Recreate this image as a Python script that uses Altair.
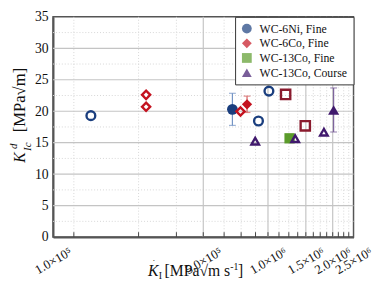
import altair as alt
import pandas as pd

# ---------------- data ----------------
series_names = ["WC-6Ni, Fine", "WC-6Co, Fine", "WC-13Co, Fine", "WC-13Co, Course"]
series_colors = ["#1a3e7e", "#c4121f", "#5b9b2b", "#40196d"]
series_shapes = ["circle", "diamond", "square", "triangle-up"]

# filled markers (mean values with error bars)
filled_series = ["WC-6Ni, Fine", "WC-6Co, Fine", "WC-13Co, Fine", "WC-13Co, Course"]
filled_rate = [6.83e5, 7.99e5, 1.26e6, 2.02e6]
filled_k = [20.3, 21.1, 15.7, 20.2]
filled_err = [2.55, 1.3, 0.0, 3.5]
err_colors = ["#7393c4", "#d45a5a", "#5b9b2b", "#7a5f9a"]

# open markers
open_series = ["WC-6Ni, Fine", "WC-6Ni, Fine", "WC-6Ni, Fine",
               "WC-6Co, Fine", "WC-6Co, Fine", "WC-6Co, Fine",
               "WC-13Co, Fine", "WC-13Co, Fine",
               "WC-13Co, Course", "WC-13Co, Course", "WC-13Co, Course"]
open_rate = [1.50e5, 9.03e5, 1.01e6,
             2.71e5, 2.71e5, 7.45e5,
             1.208e6, 1.491e6,
             8.72e5, 1.338e6, 1.82e6]
open_k = [19.3, 18.45, 23.2,
          22.6, 20.7, 19.97,
          22.67, 17.68,
          15.24, 15.64, 16.66]
open_colors = ["#1a3e7e", "#1a3e7e", "#1a3e7e",
               "#c4121f", "#c4121f", "#c4121f",
               "#8a1b2e", "#8a1b2e",
               "#40196d", "#40196d", "#40196d"]

x_tick_values = [1e5, 5e5, 1e6, 1.5e6, 2e6, 2.5e6]
x_tick_labels = ["1.0×10⁵", "5.0×10⁵", "1.0×10⁶", "1.5×10⁶", "2.0×10⁶", "2.5×10⁶"]
y_tick_values = [0, 5, 10, 15, 20, 25, 30, 35]

xg_major = [5e5, 1e6, 1.5e6, 2e6]
xg_minor = [1.25e5, 2.5e5, 3.75e5, 6.25e5, 7.5e5, 8.75e5, 1.125e6, 1.25e6,
            1.375e6, 1.625e6, 1.75e6, 1.875e6, 2.125e6, 2.25e6, 2.375e6]
yg_major = [5, 10, 15, 20, 25, 30]
yg_minor = [2.5, 7.5, 12.5, 17.5, 22.5, 27.5, 32.5]

# ---------------- styling ----------------
SERIF = "Liberation Serif, Times New Roman, DejaVu Serif, serif"
W, H = 307, 225
shape_of = dict(zip(series_names, series_shapes))
open_size = {"circle": 80, "diamond": 70, "square": 90, "triangle-up": 60}
filled_size = {"circle": 120, "diamond": 110, "square": 110, "triangle-up": 130}

xscale = alt.Scale(type="log", domain=[1e5, 2.5e6], nice=False)
yscale = alt.Scale(domain=[0, 35], nice=False, zero=False)

label_expr = ""
for i, (v, lab) in enumerate(zip(x_tick_values, x_tick_labels)):
    if i < len(x_tick_values) - 1:
        label_expr += f"datum.value < {v * 1.1} ? '{lab}' : "
    else:
        label_expr += f"'{lab}'"

x_axis = alt.Axis(values=x_tick_values, labelExpr=label_expr, labelAngle=330,
                  labelAlign="center", labelBaseline="middle", labelPadding=24,
                  labelFlush=False, ticks=False, tickSize=0, grid=False,
                  domainColor="#555", domainWidth=2, labelOverlap=False,
                  labelFont=SERIF, labelFontSize=13, labelColor="#111", title=None)
y_axis = alt.Axis(values=y_tick_values, ticks=False, tickSize=0, grid=False,
                  domainColor="#555", domainWidth=2, labelFont=SERIF, labelFlush=False,
                  labelFontSize=14, labelColor="#111", labelPadding=5, title=None)

X = lambda f: alt.X(f, type="quantitative", scale=xscale, axis=x_axis)
Y = lambda f: alt.Y(f, type="quantitative", scale=yscale, axis=y_axis)

df_f = pd.DataFrame({"series": filled_series, "rate": filled_rate, "k": filled_k,
                     "err": filled_err, "ecol": err_colors})
df_f["lo"] = df_f["k"] - df_f["err"]
df_f["hi"] = df_f["k"] + df_f["err"]
df_f["size"] = [filled_size[shape_of[s]] for s in df_f["series"]]
df_e = df_f[df_f["err"] > 0]

df_o = pd.DataFrame({"series": open_series, "rate": open_rate, "k": open_k,
                     "col": open_colors})
df_o["shape"] = [shape_of[s] for s in df_o["series"]]
df_o["size"] = [open_size[s] for s in df_o["shape"]]

# grid
gx_minor = alt.Chart(pd.DataFrame({"v": xg_minor})).mark_rule(
    color="#d6d6d6", strokeWidth=1, strokeDash=[1, 2]).encode(x=X("v"))
gy_minor = alt.Chart(pd.DataFrame({"v": yg_minor})).mark_rule(
    color="#d6d6d6", strokeWidth=1, strokeDash=[1, 2]).encode(y=Y("v"))
gx_major = alt.Chart(pd.DataFrame({"v": xg_major})).mark_rule(
    color="#c4c4c4", strokeWidth=1.2).encode(x=X("v"))
gy_major = alt.Chart(pd.DataFrame({"v": yg_major})).mark_rule(
    color="#c4c4c4", strokeWidth=1.2).encode(y=Y("v"))
xticks = alt.Chart(pd.DataFrame({"v": xg_major + xg_minor})).mark_rule(
    color="#444", strokeWidth=1).encode(x=X("v"), y=alt.value(H), y2=alt.value(H - 5))

# error bars
ebar = alt.Chart(df_e).mark_rule(strokeWidth=1.2).encode(
    x=X("rate"), y=Y("lo"), y2="hi", color=alt.Color("ecol:N", scale=None))
ecap_lo = alt.Chart(df_e).mark_tick(orient="horizontal", size=7, thickness=1.2).encode(
    x=X("rate"), y=Y("lo"), color=alt.Color("ecol:N", scale=None))
ecap_hi = alt.Chart(df_e).mark_tick(orient="horizontal", size=7, thickness=1.2).encode(
    x=X("rate"), y=Y("hi"), color=alt.Color("ecol:N", scale=None))

# filled markers (carry the legend)
filled = alt.Chart(df_f).mark_point(filled=True, opacity=1).encode(
    x=X("rate"), y=Y("k"),
    color=alt.Color("series:N", scale=alt.Scale(domain=series_names, range=series_colors),
                    legend=alt.Legend(title=None, orient="top-right", offset=0,
                                      padding=6, strokeColor="#333", fillColor="white",
                                      labelFont=SERIF, labelFontSize=12, labelColor="#111",
                                      symbolSize=100, symbolStrokeWidth=0,
                                      rowPadding=3, labelOffset=7, cornerRadius=0)),
    shape=alt.Shape("series:N", scale=alt.Scale(domain=series_names, range=series_shapes)),
    size=alt.Size("size:Q", scale=None))

# open markers
opened = alt.Chart(df_o).mark_point(filled=False, strokeWidth=2.4, opacity=1).encode(
    x=X("rate"), y=Y("k"),
    stroke=alt.Stroke("col:N", scale=None),
    shape=alt.Shape("shape:N", scale=None),
    size=alt.Size("size:Q", scale=None))

# axis titles as composed text
def txt(s, x, y, size, angle=0, style="normal", dx=0, dy=0, align="left", baseline="alphabetic"):
    return alt.Chart(pd.DataFrame({"t": [s]})).mark_text(
        font=SERIF, fontSize=size, fontStyle=style, angle=angle, dx=dx, dy=dy,
        align=align, baseline=baseline, color="#111").encode(
        text="t:N", x=alt.value(x), y=alt.value(y))

ty_x, ty_y = -29, 149
ytitle = [
    txt("K", ty_x, ty_y, 16, angle=270, style="italic"),
    txt("d", ty_x, ty_y, 11, angle=270, style="italic", dx=14, dy=-8),
    txt("Ic", ty_x, ty_y, 11, angle=270, style="italic", dx=12, dy=7),
    txt("[MPa√m]", ty_x, ty_y, 17, angle=270, dx=31),
]
tx_x, tx_y = 97, H + 40
xtitle = [
    txt("K", tx_x, tx_y, 16, style="italic"),
    txt("•", tx_x + 6, tx_y - 17, 5, align="center", baseline="middle"),
    txt("I", tx_x + 11, tx_y + 3, 10),
    txt("[MPa√m s", tx_x + 17, tx_y, 16),
    txt("-1", tx_x + 84, tx_y - 6, 10),
    txt("]", tx_x + 92, tx_y, 16),
]

chart = alt.layer(gx_minor, gy_minor, gx_major, gy_major, xticks, ebar, ecap_lo, ecap_hi,
                  filled, opened, *ytitle, *xtitle).properties(
    width=W, height=H,
    autosize=alt.AutoSizeParams(type="none"),
    padding={"left": 46, "top": 6, "right": 25, "bottom": 50},
).configure_view(stroke="#555", strokeWidth=1.5)

chart.save("out.html", embed_options={"renderer": "svg", "actions": False})
